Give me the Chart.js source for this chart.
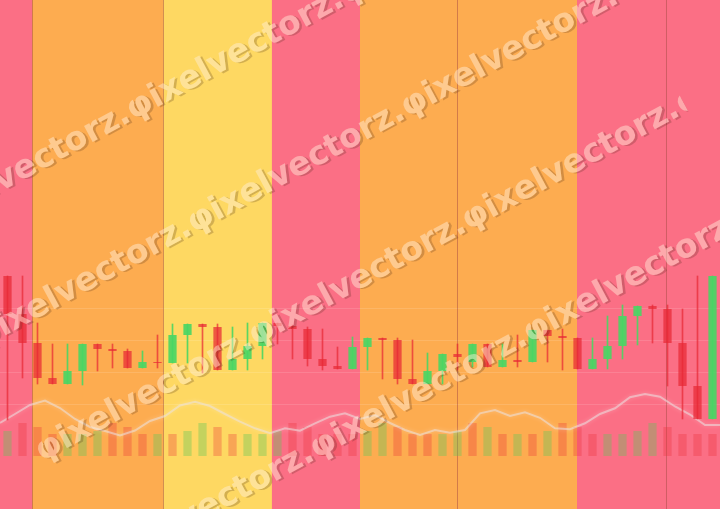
<!DOCTYPE html>
<html>
<head>
<meta charset="utf-8">
<script src="https://cdn.jsdelivr.net/npm/chart.js@4/dist/chart.umd.min.js"></script>
<style>
  html, body { margin: 0; padding: 0; background: #fb6f85; }
  canvas { display: block; }
</style>
</head>
<body>
<canvas id="myChart" width="720" height="509"></canvas>
<script>
// candles (price units)
const openPrices  = [72, 62.5, 55.25, 46.5, 45, 48.25, 55, 53.75, 53.25, 49, 50.5, 50.25, 57.25, 60, 59.25, 48.5, 51.25, 54.5, 60.25, 59.5, 58.75, 51.25, 49.5, 48.75, 54.25, 56.5, 56, 46.25, 45, 48.25, 52.5, 50.5, 55, 49.25, 51, 50.5, 58.5, 57, 56.5, 48.75, 51.25, 54.5, 62, 64.5, 63.75, 55.25, 44.5, 36.25]
const closePrices = [62.5, 55.25, 46.5, 45, 48.25, 55, 53.75, 53.25, 49, 50.5, 50.25, 57.25, 60, 59.25, 48.5, 51.25, 54.5, 60.25, 59.5, 58.75, 51.25, 49.5, 48.75, 54.25, 56.5, 56, 46.25, 45, 48.25, 52.5, 51.75, 55, 49.25, 51, 50.5, 58.5, 57, 56.5, 48.75, 51.25, 54.5, 62, 64.5, 63.75, 55.25, 44.5, 36.25, 72]
const highPrices  = [72, 72, 60.25, 55, 55, 55, 55, 55, 53.75, 53.25, 57.25, 60, 60, 60, 60, 59.25, 60.25, 60.25, 60.25, 59.75, 59.25, 58.75, 54.25, 56.75, 56.5, 56.5, 56.5, 56, 52.75, 52.5, 55, 55, 55, 55, 57.25, 58.5, 58.5, 58.75, 56.5, 56.5, 62, 64.75, 64.5, 64.75, 64.75, 63.75, 72, 72]
const lowPrices   = [36, 46.5, 45, 45, 45, 44.75, 48.25, 49, 49, 49, 49, 50.25, 50.25, 47.75, 48.5, 48.5, 48.5, 51.25, 55, 51.25, 49.5, 48.5, 48.75, 48.75, 48.5, 46.25, 45, 45, 45, 45, 48.5, 49.25, 49.25, 49.25, 49.25, 50.5, 50.5, 48.5, 48.75, 48.75, 48.75, 51.25, 54.75, 55.25, 44.5, 36.25, 36.25, 36.25]

// volume and its direction (1 = up)
const volumes = [25, 33, 29, 22, 22, 22, 25, 33, 29, 22, 22, 22, 25, 33, 29, 22, 22, 22, 25, 33, 29, 22, 22, 22,
                 25, 33, 29, 22, 22, 22, 25, 33, 29, 22, 22, 22, 25, 33, 29, 22, 22, 22, 25, 33, 29, 22, 22, 22]
const volumeUp = [1, 0, 0, 0, 1, 1, 1, 0, 0, 0, 1, 0,
                  1, 1, 0, 0, 1, 1, 1, 0, 0, 0, 0, 0,
                  1, 1, 0, 0, 0, 1, 1, 0, 1, 0, 1, 0,
                  1, 0, 0, 0, 1, 1, 1, 1, 0, 0, 0, 0]

// indicator line, one point per candle boundary
const indicator = [33, 42, 51, 55.5, 48, 37, 29, 25, 20.5, 25.5, 35, 40, 50.5, 54.3, 50, 42, 34.3, 27.7, 22.7, 27.7,
                   25.3, 32.7, 39.3, 42.7, 37, 41, 33, 26, 21, 26, 23.3, 26, 42.7, 46, 40, 43.7, 38.2, 27.7, 26.7,
                   32.7, 42, 47.7, 58.7, 62, 59.3, 49.5, 41.5, 31, 31]

// background sessions (in candle-boundary units)
const bandStart = [0, 2.15, 10.89, 18.13, 24, 30.49, 38.47, 44.38]
const bandEnd   = [2.15, 10.89, 18.13, 24, 30.49, 38.47, 44.38, 48]
const bandKind  = ["pink", "orange", "yellow", "pink", "orange", "orange", "pink", "pink"]
const sessionLines = [2.15, 10.89, 30.49, 44.38]
const priceGrid = [40, 48, 56, 64]

const labels = openPrices.map((v, i) => "C" + (i + 1))

const bandColors = { pink: "#fb6f85", orange: "#fdac50", yellow: "#fed862" }
const upColor = "rgba(72, 214, 100, 0.9)"
const downColor = "rgba(232, 40, 52, 0.72)"
const isUp = openPrices.map((o, i) => closePrices[i] >= o)

const backgroundPlugin = {
    id: "sessions",
    beforeDatasetsDraw(chart) {
        const ctx = chart.ctx
        const xs = chart.scales.xl
        const ys = chart.scales.y
        const area = chart.chartArea
        ctx.save()
        bandStart.forEach((s, i) => {
            const x0 = xs.getPixelForValue(s)
            const x1 = xs.getPixelForValue(bandEnd[i])
            ctx.fillStyle = bandColors[bandKind[i]]
            ctx.fillRect(x0, area.top, x1 - x0, area.bottom - area.top)
        })
        ctx.strokeStyle = "rgba(255, 255, 255, 0.13)"
        ctx.lineWidth = 1
        priceGrid.forEach((p) => {
            const y = Math.round(ys.getPixelForValue(p)) + 0.5
            ctx.beginPath()
            ctx.moveTo(area.left, y)
            ctx.lineTo(area.right, y)
            ctx.stroke()
        })
        ctx.strokeStyle = "rgba(130, 60, 40, 0.35)"
        sessionLines.forEach((s) => {
            const x = Math.round(xs.getPixelForValue(s)) + 0.5
            ctx.beginPath()
            ctx.moveTo(x, area.top)
            ctx.lineTo(x, area.bottom)
            ctx.stroke()
        })
        ctx.restore()
    },
    beforeDatasetDraw(chart, args) {
        if (args.meta.type === "line") {
            chart.ctx.save()
            chart.ctx.shadowColor = "rgba(255, 255, 255, 0.5)"
            chart.ctx.shadowBlur = 4
        }
    },
    afterDatasetDraw(chart, args) {
        if (args.meta.type === "line") chart.ctx.restore()
    }
}

// watermark: four rotated rows of text, clipped at the same point along the text
const watermarkPlugin = {
    id: "watermark",
    afterDraw(chart) {
        const layer = document.createElement("canvas")
        layer.width = chart.width
        layer.height = chart.height
        const wctx = layer.getContext("2d")
        const word = "φixelvectorz."
        wctx.font = "bold 32px 'DejaVu Sans'"
        const size = 32 * 243 / wctx.measureText(word).width
        wctx.font = "bold " + size.toFixed(1) + "px 'DejaVu Sans'"
        wctx.textBaseline = "alphabetic"
        wctx.rotate(Math.atan2(-116, 214))
        wctx.beginPath()
        wctx.rect(-1000, -1000, 1552, 3000)
        wctx.clip()
        const rows = [169, 297.4, 425.8, 554.2]
        // shadow, then cut the glyphs out of it, then the light fill
        wctx.fillStyle = "rgba(60, 30, 20, 0.22)"
        rows.forEach((v) => wctx.fillText(word.repeat(4), -181.3, v + 2))
        wctx.globalCompositeOperation = "destination-out"
        wctx.fillStyle = "#000"
        rows.forEach((v) => wctx.fillText(word.repeat(4), -183.3, v))
        wctx.globalCompositeOperation = "source-over"
        wctx.fillStyle = "rgba(255, 240, 220, 0.45)"
        rows.forEach((v) => wctx.fillText(word.repeat(4), -183.3, v))
        chart.ctx.drawImage(layer, 0, 0)
    }
}

const ctx = document.getElementById("myChart")
new Chart(ctx, {
    type: "bar",
    data: {
        labels: labels,
        datasets: [
            {
                label: "Body",
                data: openPrices.map((o, i) => [o, closePrices[i]]),
                backgroundColor: isUp.map((u) => u ? upColor : downColor),
                barPercentage: 0.55,
                categoryPercentage: 1,
                minBarLength: 1,
                grouped: false,
                yAxisID: "y"
            },
            {
                label: "Wick",
                data: lowPrices.map((l, i) => [l, highPrices[i]]),
                backgroundColor: isUp.map((u) => u ? upColor : downColor),
                barThickness: 1,
                grouped: false,
                yAxisID: "y"
            },
            {
                type: "line",
                label: "Indicator",
                data: indicator.map((v, i) => ({ x: i, y: v })),
                xAxisID: "xl",
                yAxisID: "yl",
                borderColor: "rgba(235, 225, 225, 0.55)",
                borderWidth: 2,
                pointRadius: 0,
                tension: 0
            },
            {
                label: "Volume",
                data: volumes,
                backgroundColor: volumeUp.map((u) => u ? "rgba(90, 200, 90, 0.35)" : "rgba(235, 45, 55, 0.3)"),
                barPercentage: 0.55,
                categoryPercentage: 1,
                grouped: false,
                yAxisID: "yl"
            }
        ]
    },
    options: {
        responsive: false,
        animation: false,
        layout: { padding: 0 },
        plugins: {
            legend: { display: false },
            tooltip: { enabled: false },
            title: { display: false }
        },
        scales: {
            x: { display: false, offset: true },
            xl: { type: "linear", display: false, offset: false, min: 0, max: 48 },
            y: { display: false, min: 13.75, max: 141 },
            yl: { display: false, min: -53, max: 456 }
        }
    },
    plugins: [backgroundPlugin, watermarkPlugin]
})
</script>
</body>
</html>
